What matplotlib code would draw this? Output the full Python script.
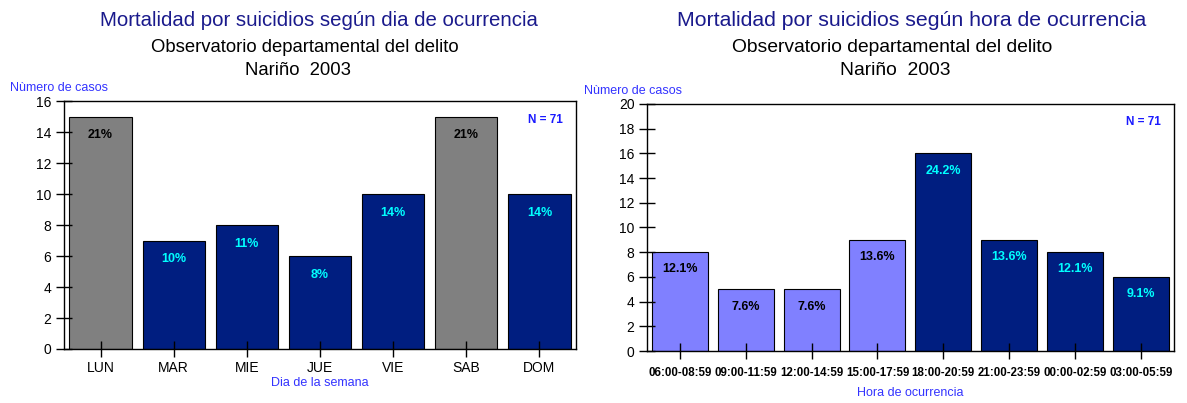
import matplotlib.pyplot as plt

plt.rcParams['font.family'] = ['Liberation Sans', 'DejaVu Sans']

dias = ['LUN', 'MAR', 'MIE', 'JUE', 'VIE', 'SAB', 'DOM']
casos_dia = [15, 7, 8, 6, 10, 15, 10]
pct_dia = ['21%', '10%', '11%', '8%', '14%', '21%', '14%']

horas = ['06:00-08:59', '09:00-11:59', '12:00-14:59', '15:00-17:59',
         '18:00-20:59', '21:00-23:59', '00:00-02:59', '03:00-05:59']
casos_hora = [8, 5, 5, 9, 16, 9, 8, 6]
pct_hora = ['12.1%', '7.6%', '7.6%', '13.6%', '24.2%', '13.6%', '12.1%', '9.1%']

GRIS = '#808080'
AZUL = '#001E80'
LILA = '#8080FF'
TITULO = '#1A1A8C'
ETIQ = '#3333FF'

fig = plt.figure(figsize=(11.87, 4.03), dpi=100)


def estilo(ax, ymax, paso):
    ax.set_ylim(0, ymax)
    ax.set_yticks(range(0, ymax + 1, paso))
    for s in ax.spines.values():
        s.set_color('black')
        s.set_linewidth(1.0)
    ax.tick_params(axis='both', direction='inout', length=11, width=1)
    ax.tick_params(axis='y', labelsize=10)


# grafico por dia
ax1 = fig.add_axes([0.0539, 0.134, 0.4314, 0.615])
col_dia = [GRIS if d in ('LUN', 'SAB') else AZUL for d in dias]
barras = ax1.bar(range(len(dias)), casos_dia, width=0.85, color=col_dia,
                 edgecolor='black', linewidth=0.8)
for b, p, c in zip(barras, pct_dia, col_dia):
    ax1.text(b.get_x() + b.get_width() / 2, b.get_height() - 1.2, p,
             ha='center', va='center', fontsize=9, fontweight='bold',
             color='black' if c == GRIS else '#00FFFF')
ax1.set_xlim(-0.5, len(dias) - 0.5)
estilo(ax1, 16, 2)
ax1.set_xticks(range(len(dias)))
ax1.set_xticklabels(dias, fontsize=10)
ax1.set_xlabel('Dia de la semana', color=ETIQ, fontsize=9, labelpad=1)
ax1.text(-0.105, 1.03, 'Nùmero de casos', transform=ax1.transAxes,
         color=ETIQ, fontsize=9, ha='left', va='bottom')
ax1.text(0.975, 0.95, 'N = 71', transform=ax1.transAxes, ha='right',
         va='top', color='#1A1AFF', fontsize=8.5, fontweight='bold')
fig.text(0.2687, 0.95, 'Mortalidad por suicidios según dia de ocurrencia',
         ha='center', va='center', color=TITULO, fontsize=14.7)
fig.text(0.257, 0.882, 'Observatorio departamental del delito',
         ha='center', va='center', fontsize=13.3)
fig.text(0.251, 0.826, 'Nariño  2003', ha='center', va='center', fontsize=13.3)

# grafico por hora
ax2 = fig.add_axes([0.545, 0.129, 0.444, 0.613])
col_hora = [LILA] * 4 + [AZUL] * 4
barras = ax2.bar(range(len(horas)), casos_hora, width=0.85, color=col_hora,
                 edgecolor='black', linewidth=0.8)
for b, p, c in zip(barras, pct_hora, col_hora):
    ax2.text(b.get_x() + b.get_width() / 2, b.get_height() - 1.4, p,
             ha='center', va='center', fontsize=9, fontweight='bold',
             color='black' if c == LILA else '#00FFFF')
ax2.set_xlim(-0.5, len(horas) - 0.5)
estilo(ax2, 20, 2)
ax2.set_xticks(range(len(horas)))
ax2.set_xticklabels(horas, fontsize=8.3, fontweight='bold')
ax2.tick_params(axis='x', pad=6)
ax2.set_xlabel('Hora de ocurrencia', color=ETIQ, fontsize=9, labelpad=6)
ax2.text(-0.12, 1.03, 'Nùmero de casos', transform=ax2.transAxes,
         color=ETIQ, fontsize=9, ha='left', va='bottom')
ax2.text(0.975, 0.95, 'N = 71', transform=ax2.transAxes, ha='right',
         va='top', color='#1A1AFF', fontsize=8.5, fontweight='bold')
fig.text(0.7683, 0.95, 'Mortalidad por suicidios según hora de ocurrencia',
         ha='center', va='center', color=TITULO, fontsize=15.3)
fig.text(0.7515, 0.882, 'Observatorio departamental del delito',
         ha='center', va='center', fontsize=13.9)
fig.text(0.754, 0.826, 'Nariño  2003', ha='center', va='center', fontsize=13.9)

fig.savefig('out.png', dpi=100)
